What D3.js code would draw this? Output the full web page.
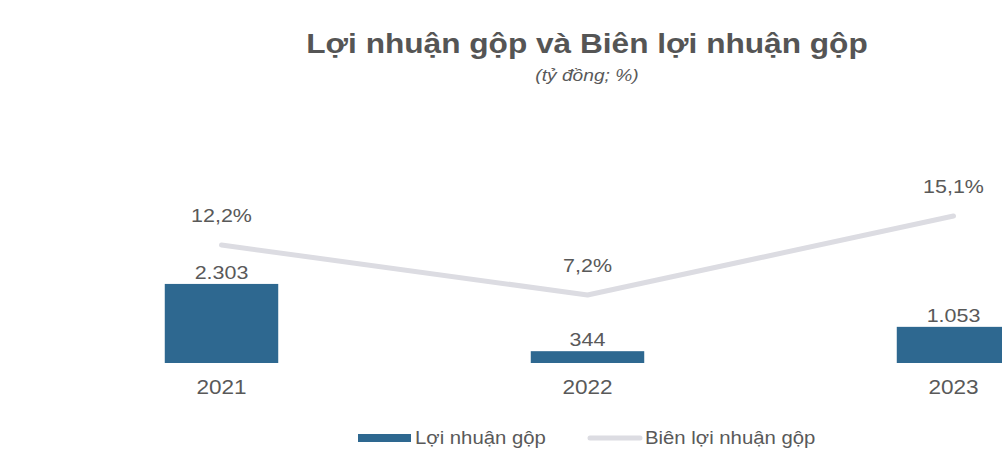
<!DOCTYPE html>
<html>
<head>
<meta charset="utf-8">
<script src="https://cdn.jsdelivr.net/npm/d3@7"></script>
<style>
  body { margin: 0; background: #fff; }
  svg { display: block; font-family: "Liberation Sans", Arial, sans-serif; }
</style>
</head>
<body>
<svg id="chart"></svg>
<script>
// data
var years = ["2021", "2022", "2023"];
var grossProfit = [2303, 344, 1053];        // tỷ đồng
var grossMargin = [12.2, 7.2, 15.1];        // %
var profitLabels = ["2.303", "344", "1.053"];
var marginLabels = ["12,2%", "7,2%", "15,1%"];

var svgWidth = 1002, svgHeight = 450;
var textColor = "#595959";
var barColor = "#2e6890";
var lineColor = "#dcdce2";
var stretch = 1.13; // the source text is a bit wider than Arial

var svg = d3.select("#chart")
  .attr("width", svgWidth)
  .attr("height", svgHeight);

// put text at (x,y) and widen it horizontally around that point
function place(sel, fx, fy) {
  sel.attr("transform", function(d, i) {
    var px = typeof fx === "function" ? fx(d, i) : fx;
    var py = typeof fy === "function" ? fy(d, i) : fy;
    return "translate(" + px + "," + py + ") scale(" + stretch + ",1)";
  });
  return sel;
}

// title
place(svg.append("text"), 587, 53)
  .attr("text-anchor", "middle")
  .attr("font-size", 28).attr("font-weight", "bold")
  .attr("fill", "#555")
  .text("Lợi nhuận gộp và Biên lợi nhuận gộp");

place(svg.append("text"), 587, 81)
  .attr("text-anchor", "middle")
  .attr("font-size", 17).attr("font-style", "italic")
  .attr("fill", textColor)
  .text("(tỷ đồng;  %)");

var x = d3.scaleBand()
  .domain(years)
  .range([38.5, 1136.5])
  .paddingInner(0.69)
  .paddingOuter(0.345);

var y = d3.scaleLinear().domain([0, 3000]).range([363, 260]);
var y2 = d3.scaleLinear().domain([0, 16]).range([367, 207]);

var data = years.map(function(d, i) {
  return { year: d, profit: grossProfit[i], margin: grossMargin[i],
           pLabel: profitLabels[i], mLabel: marginLabels[i] };
});

function cx(d) { return x(d.year) + x.bandwidth() / 2; }

// bars
svg.selectAll(".bar")
  .data(data)
  .enter().append("rect")
  .attr("class", "bar")
  .attr("x", function(d) { return x(d.year); })
  .attr("width", x.bandwidth())
  .attr("y", function(d) { return y(d.profit); })
  .attr("height", function(d) { return y(0) - y(d.profit); })
  .attr("fill", barColor);

place(svg.selectAll(".barlabel")
  .data(data)
  .enter().append("text"), cx, function(d) { return y(d.profit) - 5; })
  .attr("text-anchor", "middle")
  .attr("font-size", 19)
  .attr("fill", textColor)
  .text(function(d) { return d.pLabel; });

// x axis labels
var xAxis = svg.append("g")
  .attr("transform", "translate(0,380)")
  .call(d3.axisBottom(x).tickSize(0).tickPadding(0));
xAxis.select(".domain").remove();
xAxis.selectAll("text")
  .attr("dy", "0.71em")
  .attr("transform", "scale(" + stretch + ",1)")
  .attr("font-size", 20)
  .attr("font-family", "Liberation Sans, Arial, sans-serif")
  .attr("fill", textColor);

// margin line
var line = d3.line()
  .x(cx)
  .y(function(d) { return y2(d.margin); });

svg.append("path")
  .datum(data)
  .attr("fill", "none")
  .attr("stroke", lineColor)
  .attr("stroke-width", 5)
  .attr("stroke-linejoin", "round")
  .attr("stroke-linecap", "round")
  .attr("d", line);

place(svg.selectAll(".linelabel")
  .data(data)
  .enter().append("text"), cx, function(d) { return y2(d.margin) - 23; })
  .attr("text-anchor", "middle")
  .attr("font-size", 19)
  .attr("fill", textColor)
  .text(function(d) { return d.mLabel; });

// legend
var legend = svg.append("g").attr("transform", "translate(0,438)");
legend.append("rect")
  .attr("x", 358).attr("y", -4).attr("width", 53).attr("height", 8)
  .attr("fill", barColor);
place(legend.append("text"), 415, 6)
  .attr("font-size", 18).attr("fill", textColor)
  .text("Lợi nhuận gộp");
legend.append("line")
  .attr("x1", 590).attr("x2", 640).attr("y1", 0).attr("y2", 0)
  .attr("stroke", lineColor).attr("stroke-width", 5)
  .attr("stroke-linecap", "round");
place(legend.append("text"), 645, 6)
  .attr("font-size", 18).attr("fill", textColor)
  .text("Biên lợi nhuận gộp");
</script>
</body>
</html>
